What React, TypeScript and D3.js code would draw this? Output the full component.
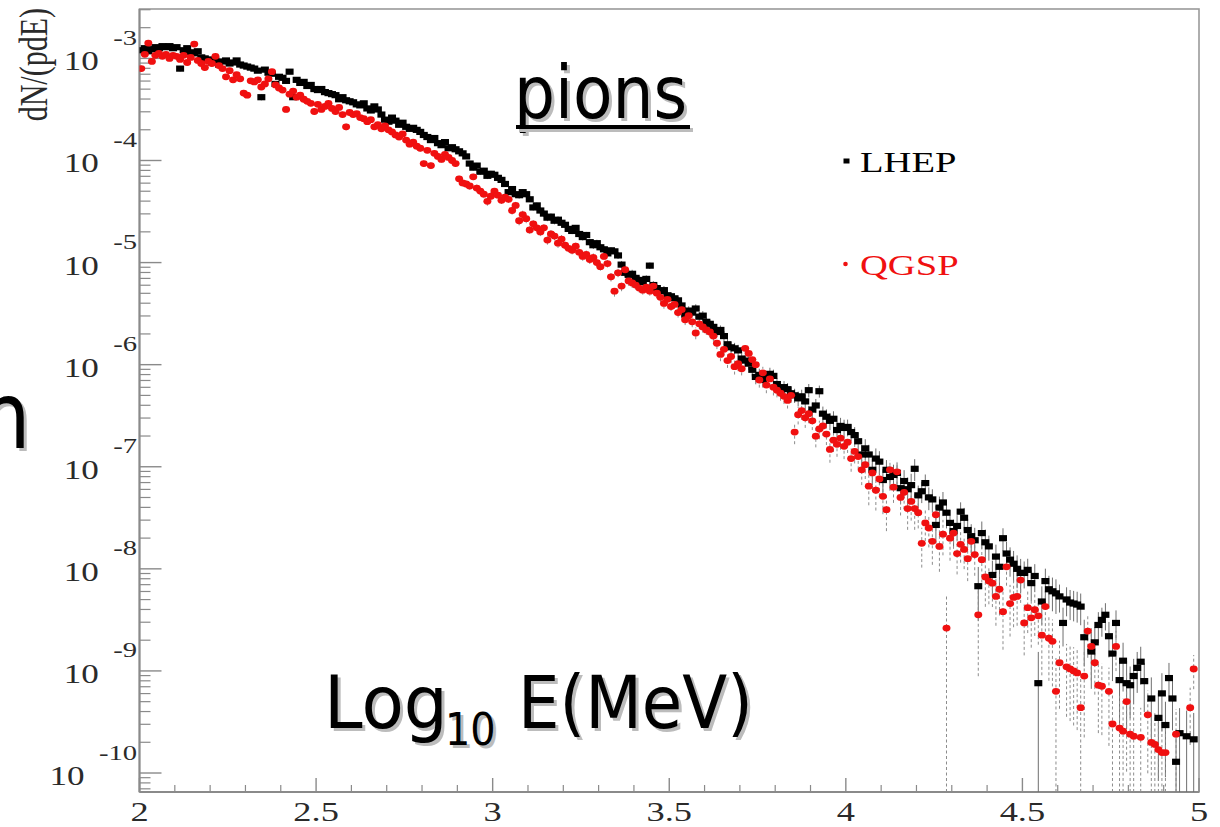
import React from 'react';
import * as d3 from 'd3';

// ---- axis setup (log10 E in MeV, 300 bins) ----
const X_MIN = 2;
const X_MAX = 5;
const N_BINS = 300;
const xTickValues = [2, 2.5, 3, 3.5, 4, 4.5, 5];
const xTickLabels = ['2', '2.5', '3', '3.5', '4', '4.5', '5'];
const yDecades = [-3, -4, -5, -6, -7, -8, -9, -10];
const yTickLabels = ['-3', '-4', '-5', '-6', '-7', '-8', '-9', '-10'];
const Y_LOG_MIN = -10.186;
const Y_LOG_MAX = -2.516;

const seriesNames = ['LHEP', 'QGSP'];

// ---- LHEP: log10 dN/(pdE) per bin (10 bins per row, row = 0.1 in log10 E) ----
const lhepLog10: (number | null)[] = [
  -2.92, -2.90, -2.93, -2.91, -2.89, -2.90, -2.88, -2.89, -2.88, -2.90,
  -2.89, -3.10, -2.92, -2.90, -2.94, -2.95, -2.93, -2.99, -3.00, -3.01,
  -3.04, -3.02, -3.06, -3.03, -3.02, -3.05, -3.04, -3.02, -3.06, -3.07,
  -3.08, -3.09, -3.10, -3.12, -3.38, -3.11, -3.14, -3.15, -3.25, -3.18,
  -3.19, -3.22, -3.13, -3.38, -3.21, -3.24, -3.23, -3.27, -3.26, -3.30,
  -3.31, -3.30, -3.33, -3.34, -3.35, -3.36, -3.40, -3.38, -3.41, -3.42,
  -3.43, -3.45, -3.46, -3.44, -3.49, -3.51, -3.47, -3.50, -3.55, -3.60,
  -3.62, -3.58, -3.61, -3.65, -3.63, -3.67, -3.69, -3.68, -3.70, -3.72,
  -3.75, -3.77, -3.80, -3.78, -3.83, -3.85, -3.82, -3.88, -3.87, -3.89,
  -3.91, -3.93, -3.96, -4.03, -4.07, -4.05, -4.11, -4.10, -4.15, -4.13,
  -4.14, -4.17, -4.19, -4.23, -4.31, -4.28, -4.33, -4.34, -4.31, -4.33,
  -4.38, -4.46, -4.44, -4.49, -4.52, -4.56, -4.55, -4.59, -4.58, -4.61,
  -4.63, -4.67, -4.69, -4.66, -4.72, -4.75, -4.73, -4.80, -4.83, -4.81,
  -4.85, -4.87, -4.91, -4.88, -4.89, -4.93, -5.02, -5.10, -5.12, -5.11,
  -5.15, -5.17, -5.19, -5.16, -5.03, -5.22, -5.25, -5.28, -5.27, -5.32,
  -5.33, -5.35, -5.37, -5.42, -5.51, -5.47, -5.49, -5.45, -5.53, -5.52,
  -5.58, -5.60, -5.63, -5.68, -5.66, -5.72, -5.80, -5.83, -5.84, -5.86,
  -5.94, -5.96, -5.99, -6.05, -6.12, -6.10, -6.15, -6.13, -6.09, -6.11,
  -6.19, -6.25, -6.22, -6.24, -6.28, -6.30, -6.33, -6.31, -6.36, -6.25,
  -6.44, -6.40, -6.26, -6.48, -6.51, -6.55, -6.53, -6.64, -6.60, -6.62,
  -6.61, -6.66, -6.69, -6.75, -6.88, -6.82, -6.88, -7.03, -6.92, -6.95,
  -7.13, -7.03, -7.10, -7.08, -7.06, -7.21, -7.14, -7.22, -7.18, -7.02,
  -7.28, -7.24, -7.16, -7.30, -7.32, -7.57, -7.40, -7.35, -7.45, -7.55,
  -7.63, -7.58, -7.44, -7.50, -7.62, -7.68, -7.72, -8.17, -7.65, -7.74,
  -7.78, -8.06, -7.88, -7.98, -7.70, -7.85, -7.91, -7.95, -8.00, -8.04,
  -8.04, -8.01, -8.14, -8.07, -9.12, -8.32, -8.12, -8.20, -8.22, -8.24,
  -8.27, -8.53, -8.30, -8.33, -8.34, -8.35, -8.37, -8.67, null, -8.81,
  -8.72, -8.55, -8.50, -8.45, -8.66, -8.83, -8.53, -9.09, -8.90, -9.12,
  -9.14, -9.05, -8.97, -8.91, -9.10, null, -9.27, null, -9.46, -9.22,
  -9.53, -9.07, -9.27, -9.89, -9.61, null, -9.64, null, -9.67, null,
];

// ---- QGSP ----
const qgspLog10: (number | null)[] = [
  -3.10, -2.96, -2.85, -3.03, -2.97, -2.95, -2.98, -2.96, -3.00, -2.97,
  -2.98, -3.01, -2.97, -3.04, -2.99, -2.86, -3.02, -3.05, -3.09, -3.03,
  -3.05, -2.98, -3.07, -3.10, -3.18, -3.12, -3.21, -3.16, -3.20, -3.34,
  -3.36, -3.22, -3.23, -3.21, -3.28, -3.25, -3.20, -3.13, -3.26, -3.29,
  -3.31, -3.50, -3.35, -3.32, -3.38, -3.36, -3.40, -3.42, -3.44, -3.52,
  -3.45, -3.50, -3.47, -3.44, -3.49, -3.52, -3.48, -3.55, -3.67, -3.53,
  -3.55, -3.54, -3.58, -3.59, -3.62, -3.60, -3.67, -3.65, -3.69, -3.66,
  -3.70, -3.72, -3.75, -3.77, -3.74, -3.80, -3.84, -3.82, -3.86, -3.88,
  -4.03, -3.90, -4.05, -3.93, -3.96, -3.99, -3.94, -3.97, -4.00, -4.03,
  -4.18, -4.22, -4.23, -4.25, -4.16, -4.27, -4.30, -4.33, -4.40, -4.35,
  -4.30, -4.34, -4.39, -4.36, -4.38, -4.49, -4.44, -4.59, -4.53, -4.57,
  -4.68, -4.62, -4.66, -4.70, -4.66, -4.78, -4.72, -4.74, -4.81, -4.77,
  -4.83, -4.86, -4.88, -4.84, -4.90, -4.94, -4.92, -4.97, -4.95, -5.00,
  -5.04, -4.94, -5.01, -5.14, -5.28, -5.10, -5.23, -5.07, -5.18, -5.20,
  -5.22, -5.25, -5.27, -5.24, -5.28, -5.23, -5.30, -5.34, -5.40, -5.36,
  -5.43, -5.41, -5.49, -5.46, -5.56, -5.52, -5.58, -5.69, -5.60, -5.63,
  -5.66, -5.68, -5.72, -5.79, -5.90, -5.85, -5.96, -5.92, -6.02, -5.99,
  -6.04, -5.84, -5.89, -5.95, -6.00, -6.15, -6.08, -6.20, -6.14, -6.22,
  -6.25, -6.28, -6.31, -6.35, -6.30, -6.66, -6.49, -6.45, -6.52, -6.48,
  -6.55, -6.70, -6.63, -6.60, -6.68, -6.83, -6.74, -6.78, -6.72, -6.80,
  -6.76, -6.92, -6.85, -6.90, -7.03, -6.98, -7.19, -7.06, -7.23, -7.12,
  -7.29, -7.42, -7.03, -7.20, -7.05, -7.30, -7.25, -7.41, -7.34, -7.41,
  -7.45, -7.75, -7.55, -7.60, -7.73, -7.47, -7.78, -7.66, -8.58, -7.70,
  -7.65, -7.85, -7.76, -7.81, -7.90, -7.73, -7.86, -8.45, -7.91, -8.08,
  -8.12, -8.14, -8.27, -8.20, -8.42, -7.98, -8.34, -8.28, -8.27, -8.11,
  -8.53, -8.38, -8.48, -8.40, -8.46, -8.65, -8.37, -8.68, -8.71, -9.20,
  -8.92, null, -8.96, -8.98, -9.00, -9.02, -9.36, -9.05, -8.61, -8.76,
  -8.92, -9.14, -9.15, null, -9.20, -9.52, -8.76, -9.56, -9.59, -9.30,
  -9.62, -9.64, null, -9.65, null, -9.43, -9.70, -9.72, -9.77, -9.80,
  -9.80, null, null, -9.62, null, null, null, -9.36, -8.98, null,
];

// ---- per-entry weight (log10) for each 0.1 slice, sets the statistical error bars ----
const errScaleLog10 = [
  -5.4, -5.5, -5.6, -5.7, -5.8, -5.9, -6.0, -6.15, -6.3, -6.45,
  -6.6, -6.8, -7.0, -7.15, -7.3, -7.45, -7.6, -7.75, -7.9, -8.0,
  -8.1, -8.25, -8.5, -8.7, -8.9, -9.1, -9.3, -9.5, -9.7, -9.85,
];

type Pt = { xc: number; v: number; lo: number; hi: number };

function buildSeries(arr: (number | null)[]): Pt[] {
  const binW = (X_MAX - X_MIN) / N_BINS;
  const out: Pt[] = [];
  arr.forEach((lv, i) => {
    if (lv === null) return;
    const v = Math.pow(10, lv);
    const w = Math.pow(10, errScaleLog10[Math.floor(i / 10)]);
    const err = Math.sqrt(v * w);
    out.push({ xc: X_MIN + binW * (i + 0.5), v, lo: v - err, hi: v + err });
  });
  return out;
}

const L = 139.5, R = 1199, T = 9, B = 792;
const SX = 1.3; // horizontal stretch of the ROOT canvas text
const serif = '"Liberation Serif", "Times New Roman", serif';
const sans = '"DejaVu Sans", Verdana, sans-serif';

export default function App() {
  const x = d3.scaleLinear().domain([X_MIN, X_MAX]).range([L, R]);
  const y = d3.scaleLog().domain([Math.pow(10, Y_LOG_MIN), Math.pow(10, Y_LOG_MAX)]).range([B, T]);
  const yMin = Math.pow(10, Y_LOG_MIN);

  const lhep = buildSeries(lhepLog10);
  const qgsp = buildSeries(qgspLog10);

  const xMinor = d3.range(0, 31).map((k) => X_MIN + k * 0.1).filter((v) => Math.abs((v * 2) - Math.round(v * 2)) > 1e-6);
  const yMinor: number[] = [];
  for (let d = -11; d <= -2; d++) {
    for (let k = 2; k <= 9; k++) {
      const val = k * Math.pow(10, d);
      if (val > yMin && val < Math.pow(10, Y_LOG_MAX)) yMinor.push(val);
    }
  }

  const barY = (p: Pt) => {
    const y1 = p.lo <= yMin ? B : Math.min(B, y(p.lo));
    const y2 = Math.max(T, y(p.hi));
    return [y1, y2];
  };

  const shadowText = (node: (fill: string, dx: number, dy: number) => React.ReactNode) => (
    <>
      {node('#bcbcbc', 3, 3)}
      {node('#000', 0, 0)}
    </>
  );

  return (
    <svg width={1220} height={827} style={{ position: 'absolute', left: 0, top: 0, background: '#fff' }}>
      <defs>
        <clipPath id="plotClip">
          <rect x={L} y={T} width={R - L} height={B - T} />
        </clipPath>
      </defs>
      <rect x={0} y={0} width={1220} height={827} fill="#fff" />

      {/* frame */}
      <rect x={L} y={T} width={R - L} height={B - T} fill="none" stroke="#9a9a9a" strokeWidth={1.6} />
      <line x1={L} x2={L} y1={T} y2={B} stroke="#8a8a8a" strokeWidth={2} />
      <line x1={L} x2={R} y1={B} y2={B} stroke="#8a8a8a" strokeWidth={2} />

      {/* y ticks */}
      {yDecades.map((d) => (
        <line key={'yM' + d} x1={L} x2={L + 22} y1={y(Math.pow(10, d))} y2={y(Math.pow(10, d))} stroke="#8a8a8a" strokeWidth={1.4} />
      ))}
      {yMinor.map((v, i) => (
        <line key={'ym' + i} x1={L} x2={L + 11} y1={y(v)} y2={y(v)} stroke="#8a8a8a" strokeWidth={1.2} />
      ))}
      {/* x ticks */}
      {xTickValues.map((v) => (
        <line key={'xM' + v} x1={x(v)} x2={x(v)} y1={B} y2={B - 14} stroke="#8a8a8a" strokeWidth={1.4} />
      ))}
      {xMinor.map((v, i) => (
        <line key={'xm' + i} x1={x(v)} x2={x(v)} y1={B} y2={B - 7} stroke="#8a8a8a" strokeWidth={1.2} />
      ))}

      {/* y tick labels */}
      {yDecades.map((d, i) => (
        <g key={'yl' + d} transform={`translate(137,${y(Math.pow(10, d))}) scale(${SX},1)`}>
          <text x={0} y={12} textAnchor="end" fontFamily={serif} fill="#2a2a2a">
            <tspan fontSize={27}>10</tspan>
            <tspan fontSize={22} dx={11} dy={-25.5}>{yTickLabels[i]}</tspan>
          </text>
        </g>
      ))}
      {/* x tick labels */}
      {xTickValues.map((v, i) => (
        <g key={'xl' + v} transform={`translate(${x(v)},821) scale(${SX},1)`}>
          <text x={0} y={0} textAnchor="middle" fontFamily={serif} fontSize={28} fill="#2a2a2a">{xTickLabels[i]}</text>
        </g>
      ))}

      {/* y title */}
      <g transform={`translate(47,8) scale(${SX},1) rotate(-90)`}>
        <text x={0} y={0} textAnchor="end" fontFamily={serif} fontSize={30} fill="#2a2a2a">dN/(pdE)</text>
      </g>

      {/* data */}
      <g clipPath="url(#plotClip)">
        {lhep.map((p, i) => {
          const [y1, y2] = barY(p);
          return <line key={'lb' + i} x1={x(p.xc)} x2={x(p.xc)} y1={y1} y2={y2} stroke="#6e6e6e" strokeWidth={1} />;
        })}
        {qgsp.map((p, i) => {
          const [y1, y2] = barY(p);
          return <line key={'qb' + i} x1={x(p.xc)} x2={x(p.xc)} y1={y1} y2={y2} stroke="#8c8c8c" strokeWidth={1} strokeDasharray="3 2.5" />;
        })}
        {lhep.map((p, i) => (
          <rect key={'lm' + i} x={x(p.xc) - 4} y={y(p.v) - 3.1} width={8} height={6.2} fill="#000" />
        ))}
        {qgsp.map((p, i) => (
          <ellipse key={'qm' + i} cx={x(p.xc)} cy={y(p.v)} rx={4} ry={3.4} fill="#f01010" />
        ))}
      </g>

      {/* legend */}
      <rect x={843.5} y={158.5} width={6} height={5} fill="#000" />
      <g transform={`translate(860,172) scale(1.33,1)`}>
        <text fontFamily={serif} fontSize={29} fill="#000">{seriesNames[0]}</text>
      </g>
      <ellipse cx={845.5} cy={264} rx={2.3} ry={2.3} fill="#f01010" />
      <g transform={`translate(860,275) scale(1.33,1)`}>
        <text fontFamily={serif} fontSize={29} fill="#f01010">{seriesNames[1]}</text>
      </g>

      {/* slide overlay texts */}
      {shadowText((fill, dx, dy) => (
        <g key={'p' + fill} transform={`translate(${514 + dx},${118 + dy}) scale(0.885,1)`}>
          <text fontFamily={sans} fontSize={73} fill={fill}>pions</text>
        </g>
      ))}
      <rect x={519} y={128} width={174} height={4} fill="#bcbcbc" />
      <rect x={516} y={125} width={174} height={4} fill="#000" />

      {shadowText((fill, dx, dy) => (
        <g key={'l' + fill}>
          <g transform={`translate(${324 + dx},${728 + dy}) scale(0.95,1)`}>
            <text fontFamily={sans} fontSize={73} fill={fill}>Log</text>
          </g>
          <g transform={`translate(${445 + dx},${745 + dy}) scale(0.885,1)`}>
            <text fontFamily={sans} fontSize={45} fill={fill}>10</text>
          </g>
          <g transform={`translate(${518 + dx},${728 + dy}) scale(0.9,1)`}>
            <text fontFamily={sans} fontSize={73} fill={fill}>E(MeV)</text>
          </g>
        </g>
      ))}

      {shadowText((fill, dx, dy) => (
        <g key={'n' + fill} transform={`translate(${-21 + dx},${448 + dy}) scale(0.885,1)`}>
          <text fontFamily={sans} fontSize={92} fill={fill}>n</text>
        </g>
      ))}
    </svg>
  );
}
